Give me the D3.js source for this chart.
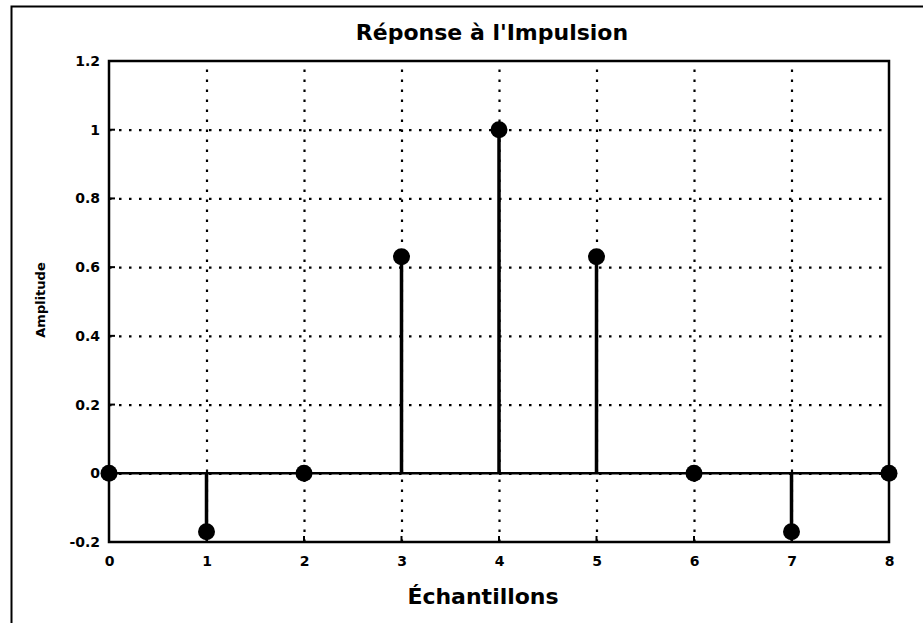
<!DOCTYPE html>
<html>
<head>
<meta charset="utf-8">
<script src="https://cdn.jsdelivr.net/npm/d3@7"></script>
<style>
  html, body { margin: 0; padding: 0; background: #fff; }
  svg { display: block; }
  text { font-family: "DejaVu Sans", "Liberation Sans", sans-serif; fill: #000; }
</style>
</head>
<body>
<svg id="chart" width="923" height="623"></svg>
<script>
const titleText = "Réponse à l'Impulsion";
const xLabel = "Échantillons";
const yLabel = "Amplitude";
const samples = [0, 1, 2, 3, 4, 5, 6, 7, 8];
const amplitudes = [0, -0.17, 0, 0.63, 1, 0.63, 0, -0.17, 0];
const xTicks = [0, 1, 2, 3, 4, 5, 6, 7, 8];
const yTicks = [-0.2, 0, 0.2, 0.4, 0.6, 0.8, 1, 1.2];
const yTickLabels = ["-0.2", "0", "0.2", "0.4", "0.6", "0.8", "1", "1.2"];

const svg = d3.select("#chart");
const W = 923, H = 623;
const m = { left: 109, right: 34, top: 61, bottom: 81 };

const x = d3.scaleLinear().domain([0, 8]).range([m.left, W - m.right]);
const y = d3.scaleLinear().domain([-0.2, 1.2]).range([H - m.bottom, m.top]);

// outer frame
svg.append("rect")
  .attr("x", 11.5).attr("y", 6.5)
  .attr("width", W + 20).attr("height", H + 20)
  .attr("fill", "none").attr("stroke", "#000").attr("stroke-width", 2);

// grid
const gridDash = "2.5,7.5";
svg.append("g")
  .attr("transform", `translate(0,${y(-0.2)})`)
  .call(d3.axisBottom(x).tickValues(xTicks.slice(1, -1)).tickSize(-(y(-0.2) - y(1.2))).tickFormat(""))
  .call(g => g.select(".domain").remove())
  .call(g => g.selectAll("line").attr("stroke", "#000").attr("stroke-width", 2.2).attr("stroke-dasharray", gridDash));
svg.append("g")
  .attr("transform", `translate(${x(0)},0)`)
  .call(d3.axisLeft(y).tickValues(yTicks.slice(1, -1)).tickSize(-(x(8) - x(0))).tickFormat(""))
  .call(g => g.select(".domain").remove())
  .call(g => g.selectAll("line").attr("stroke", "#000").attr("stroke-width", 2.2).attr("stroke-dasharray", gridDash));

// axes tick labels
const xAxis = svg.append("g")
  .attr("transform", `translate(0,${y(-0.2)})`)
  .call(d3.axisBottom(x).tickValues(xTicks).tickSize(0).tickPadding(14).tickFormat(d3.format("d")));
xAxis.select(".domain").remove();
xAxis.selectAll("text").attr("font-size", 14).attr("font-weight", "bold")
  .attr("font-family", "'DejaVu Sans', sans-serif");

const yAxis = svg.append("g")
  .attr("transform", `translate(${x(0)},0)`)
  .call(d3.axisLeft(y).tickValues(yTicks).tickSize(0).tickPadding(9)
    .tickFormat((d, i) => yTickLabels[i]));
yAxis.select(".domain").remove();
yAxis.selectAll("text").attr("font-size", 14).attr("font-weight", "bold")
  .attr("font-family", "'DejaVu Sans', sans-serif");

// small inner tick marks
svg.append("g").selectAll("line.xt").data(xTicks).join("line")
  .attr("x1", d => x(d)).attr("x2", d => x(d))
  .attr("y1", y(-0.2)).attr("y2", y(-0.2) - 6)
  .attr("stroke", "#000").attr("stroke-width", 2);
svg.append("g").selectAll("line.yt").data(yTicks).join("line")
  .attr("x1", x(0)).attr("x2", x(0) + 6)
  .attr("y1", d => y(d)).attr("y2", d => y(d))
  .attr("stroke", "#000").attr("stroke-width", 2);

// plot frame
svg.append("rect")
  .attr("x", x(0)).attr("y", y(1.2))
  .attr("width", x(8) - x(0)).attr("height", y(-0.2) - y(1.2))
  .attr("fill", "none").attr("stroke", "#000").attr("stroke-width", 2.5);

// baseline
svg.append("line")
  .attr("x1", x(0)).attr("x2", x(8))
  .attr("y1", y(0)).attr("y2", y(0))
  .attr("stroke", "#000").attr("stroke-width", 2.5);

// stems
svg.append("g").selectAll("line").data(samples).join("line")
  .attr("x1", d => x(d)).attr("x2", d => x(d))
  .attr("y1", y(0)).attr("y2", (d, i) => y(amplitudes[i]))
  .attr("stroke", "#000").attr("stroke-width", 3.5);

// markers
svg.append("g").selectAll("circle").data(samples).join("circle")
  .attr("cx", d => x(d)).attr("cy", (d, i) => y(amplitudes[i]))
  .attr("r", 8.5).attr("fill", "#000");

// title
svg.append("text")
  .attr("x", 492).attr("y", 40)
  .attr("text-anchor", "middle")
  .attr("font-size", 22).attr("font-weight", "bold")
  .text(titleText);

// x label
svg.append("text")
  .attr("x", 483).attr("y", 604)
  .attr("text-anchor", "middle")
  .attr("font-size", 22).attr("font-weight", "bold")
  .text(xLabel);

// y label
svg.append("text")
  .attr("transform", `translate(45,${300}) rotate(-90)`)
  .attr("text-anchor", "middle")
  .attr("font-size", 13).attr("font-weight", "bold")
  .text(yLabel);
</script>
</body>
</html>
